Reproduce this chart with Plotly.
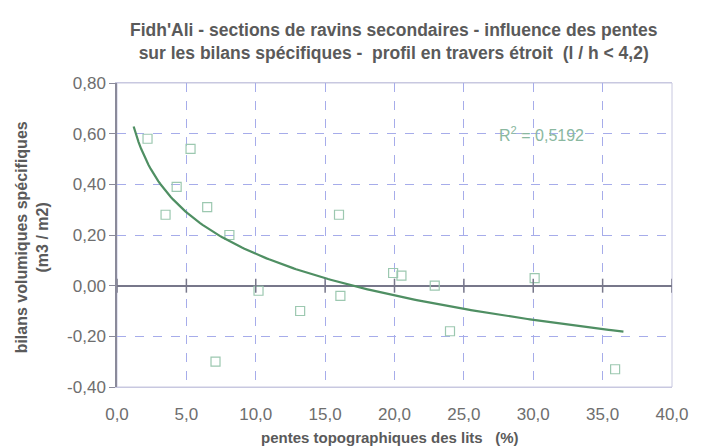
import numpy as np
import plotly.graph_objects as go

# data
pentes = [2.2, 5.3, 4.3, 3.5, 6.5, 8.1, 16.0, 10.2, 13.2, 16.1, 7.1, 19.9, 20.5, 22.9, 24.0, 30.1, 35.9]
bilans = [0.58, 0.54, 0.39, 0.28, 0.31, 0.20, 0.28, -0.02, -0.10, -0.04, -0.30, 0.05, 0.04, 0.00, -0.18, 0.03, -0.33]
x_ticks = [0, 5, 10, 15, 20, 25, 30, 35, 40]
y_ticks = [-0.4, -0.2, 0.0, 0.2, 0.4, 0.6, 0.8]
x_ticktext = [f"{v:.1f}".replace(".", ",") for v in x_ticks]
y_ticktext = [f"{v:.2f}".replace(".", ",") for v in y_ticks]
trend_range = [1.2, 36.5]
r2_text = "R<sup>2</sup> = 0,5192"

# logarithmic trend line (least squares on ln x)
a, b = np.polyfit(np.log(pentes), bilans, 1)
xt = np.linspace(trend_range[0], trend_range[1], 200)
yt = a * np.log(xt) + b

FONT = "Liberation Sans, Arial"
L, R, T, B = 117, 20, 83, 60
W, H = 701, 447
pw, ph = W - L - R, H - T - B

fig = go.Figure()
fig.add_trace(go.Scatter(x=pentes, y=bilans, mode="markers",
                         marker=dict(symbol="square-open", size=9, color="#9cc8b0", line=dict(width=1.2)),
                         showlegend=False))
fig.add_trace(go.Scatter(x=xt, y=yt, mode="lines", line=dict(color="#4f8f63", width=2.2), showlegend=False))
# tick marks on the zero line
fig.add_trace(go.Scatter(x=x_ticks, y=[0] * len(x_ticks), mode="markers",
                         marker=dict(symbol="line-ns", size=10, line=dict(color="#77778a", width=1.5)),
                         showlegend=False, hoverinfo="skip"))

fig.add_annotation(x=30.6, y=0.60, text=r2_text, showarrow=False,
                   font=dict(size=16, color="#8ab8a0", family=FONT))

# title
fig.add_annotation(xref="paper", yref="paper", x=(398 - L) / pw, y=(H - B - 41.5) / ph,
                   xanchor="center", yanchor="middle", showarrow=False,
                   text="<b>Fidh'Ali - sections de ravins secondaires - influence des pentes<br>sur les bilans spécifiques -  profil en travers étroit  (l / h < 4,2)</b>",
                   font=dict(size=17.5, color="#5a5a5a", family=FONT))
# y title
fig.add_annotation(xref="paper", yref="paper", x=(31 - L) / pw, y=(H - B - 237) / ph,
                   xanchor="center", yanchor="middle", showarrow=False, textangle=-90,
                   text="<b>bilans volumiques spécifiques<br>(m3 / m2)</b>",
                   font=dict(size=16, color="#5a5a5a", family=FONT))
# x title
fig.add_annotation(xref="paper", yref="paper", x=(394 - L) / pw, y=(H - B - 437) / ph,
                   xanchor="center", yanchor="middle", showarrow=False,
                   text="<b>pentes topographiques des lits   (%)</b>",
                   font=dict(size=15, color="#5a5a5a", family=FONT))

fig.update_layout(
    width=W, height=H,
    margin=dict(l=L, r=R, t=T, b=B),
    paper_bgcolor="white", plot_bgcolor="white",
    font=dict(family=FONT, color="#666666", size=17),
)
fig.update_xaxes(range=[0, 40], tickvals=x_ticks, ticktext=x_ticktext,
                 showgrid=True, gridcolor="#a6acea", griddash="dash", gridwidth=1,
                 zeroline=False, showline=True, linecolor="#c8c8e0", mirror=True,
                 ticks="", ticklabelstandoff=12, tickfont=dict(size=17, color="#6e6e6e"))
fig.update_yaxes(range=[-0.4, 0.8], tickvals=y_ticks, ticktext=y_ticktext,
                 showgrid=True, gridcolor="#a6acea", griddash="dash", gridwidth=1,
                 zeroline=True, zerolinecolor="#77778a", zerolinewidth=1.5,
                 showline=True, linecolor="#8a8a9a", linewidth=1.5, mirror=False,
                 ticks="outside", ticklen=6, tickcolor="#8a8a9a",
                 tickfont=dict(size=17, color="#6e6e6e"))
# right/top border
fig.add_shape(type="rect", xref="paper", yref="paper", x0=0, y0=0, x1=1, y1=1,
              line=dict(color="#c8c8e0", width=1), layer="below")

fig.write_html("out.html")
